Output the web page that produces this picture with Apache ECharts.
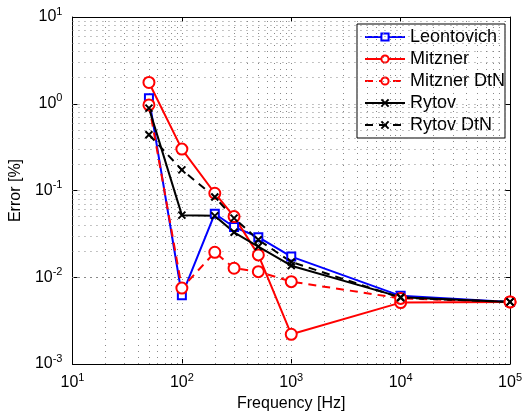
<!DOCTYPE html>
<html><head><meta charset="utf-8">
<script src="https://cdn.jsdelivr.net/npm/echarts@6/dist/echarts.min.js"></script>
<style>html,body{margin:0;padding:0;background:#fff}#c{width:525px;height:418px}</style>
</head><body><div id="c"></div>
<script>
const freq = [50, 100, 200, 300, 500, 1000, 10000, 100000];
const leontovich = [1.16, 0.0062, 0.054, 0.038, 0.029, 0.0173, 0.0061, 0.0052];
const mitzner = [1.76, 0.30, 0.093, 0.050, 0.0181, 0.0022, 0.0051, 0.0052];
const mitznerDtN = [0.97, 0.0075, 0.0194, 0.0127, 0.0116, 0.0089, 0.0057, 0.0052];
const rytov = [0.89, 0.052, 0.051, 0.033, 0.0226, 0.0136, 0.0059, 0.0052];
const rytovDtN = [0.44, 0.173, 0.084, 0.048, 0.027, 0.0150, 0.0058, 0.0052];
const seriesNames = ['Leontovich', 'Mitzner', 'Mitzner DtN', 'Rytov', 'Rytov DtN'];
const xMin = 10, xMax = 100000, yMin = 0.001, yMax = 10;

function minorVals(lo, hi) {
  const out = [];
  for (let d = lo; d < hi; d *= 10) {
    for (let k = 1; k <= 9; k++) {
      const v = +(k * d).toPrecision(6);
      if (v > lo && v < hi) out.push(v);
    }
  }
  return out;
}
const xGrid = minorVals(xMin, xMax);
const yGrid = minorVals(yMin, yMax);

const font = 'Liberation Sans, Arial, Helvetica, sans-serif';
function pow10Label(v) {
  const e = Math.round(Math.log10(v));
  return '{b|10}{s|' + e + '}';
}
const rich = {
  b: { fontSize: 16, fontFamily: font, color: '#000' },
  s: { fontSize: 11, fontFamily: font, color: '#000', padding: [0, 0, 11, 0] }
};
const pairs = arr => freq.map((f, i) => [f, arr[i]]);
const xCross = 'path://M0,0L10,10M10,0L0,10';

function mkSeries(name, data, color, dashed, symbol, size) {
  return {
    name, type: 'line', data: pairs(data), xAxisIndex: 0, yAxisIndex: 0,
    symbol, symbolSize: size, showSymbol: true,
    lineStyle: { color, width: 2, type: dashed ? [8, 6] : 'solid' },
    itemStyle: { color: symbol === xCross ? color : '#fff', borderColor: color, borderWidth: 2 },
    emphasis: { disabled: true }, z: 5
  };
}

const option = {
  animation: false,
  backgroundColor: '#fff',
  grid: { left: 70, right: 14, top: 17, bottom: 54, show: false },
  legend: {
    orient: 'vertical', left: 357, top: 24,
    data: seriesNames,
    itemWidth: 40, itemHeight: 9, itemGap: 4,
    padding: [4, 0, 4, 7],
    backgroundColor: '#fff', borderColor: '#000', borderWidth: 1,
    textStyle: { fontSize: 18, fontFamily: font, color: '#000' },
    selectedMode: false
  },
  xAxis: [{
    type: 'log', logBase: 10, min: xMin, max: xMax,
    name: 'Frequency [Hz]', nameLocation: 'middle', nameGap: 31,
    nameTextStyle: { fontSize: 16, fontFamily: font, color: '#000' },
    axisLine: { show: true, lineStyle: { color: '#000', width: 1 } },
    axisTick: { show: true, inside: true, length: 5, lineStyle: { color: '#000' } },
    axisLabel: { formatter: pow10Label, rich, fontSize: 16, margin: 8 },
    splitLine: { show: false }
  }, {
    type: 'log', logBase: 10, min: xMin, max: xMax, position: 'top',
    axisLine: { show: true, lineStyle: { color: '#000', width: 1 } },
    axisTick: { show: true, inside: true, length: 5, lineStyle: { color: '#000' } },
    axisLabel: { show: false }, splitLine: { show: false }
  }],
  yAxis: [{
    type: 'log', logBase: 10, min: yMin, max: yMax,
    name: 'Error [%]', nameLocation: 'middle', nameGap: 42,
    nameTextStyle: { fontSize: 16, fontFamily: font, color: '#000' },
    axisLine: { show: true, lineStyle: { color: '#000', width: 1 } },
    axisTick: { show: true, inside: true, length: 5, lineStyle: { color: '#000' } },
    axisLabel: { formatter: pow10Label, rich, fontSize: 16, margin: 10 },
    splitLine: { show: false }
  }, {
    type: 'log', logBase: 10, min: yMin, max: yMax, position: 'right',
    axisLine: { show: true, lineStyle: { color: '#000', width: 1 } },
    axisTick: { show: true, inside: true, length: 5, lineStyle: { color: '#000' } },
    axisLabel: { show: false }, splitLine: { show: false }
  }],
  series: [
    {
      name: 'grid', type: 'line', data: [], silent: true, z: 1,
      markLine: {
        silent: true, symbol: 'none', animation: false,
        label: { show: false },
        lineStyle: { color: '#888', width: 1, type: [1, 5] },
        emphasis: { disabled: true },
        data: xGrid.map(v => ({ xAxis: v })).concat(yGrid.map(v => ({ yAxis: v })))
      }
    },
    mkSeries('Leontovich', leontovich, '#0000ff', false, 'rect', 8),
    mkSeries('Mitzner', mitzner, '#ff0000', false, 'circle', 11),
    mkSeries('Mitzner DtN', mitznerDtN, '#ff0000', true, 'circle', 11),
    mkSeries('Rytov', rytov, '#000000', false, xCross, 7),
    mkSeries('Rytov DtN', rytovDtN, '#000000', true, xCross, 7)
  ]
};
echarts.init(document.getElementById('c')).setOption(option);
</script></body></html>
